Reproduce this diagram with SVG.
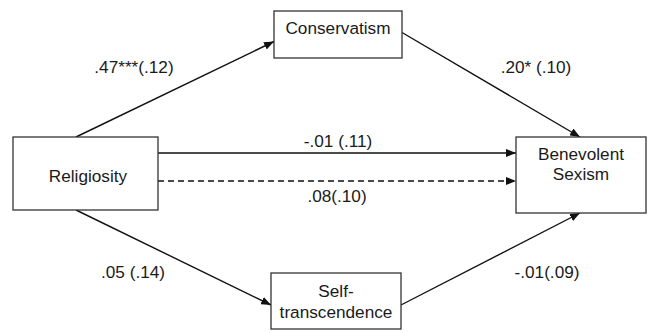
<svg xmlns="http://www.w3.org/2000/svg" width="647" height="332" viewBox="0 0 647 332">
<style>
.box{fill:#fff;stroke:#333;stroke-width:1.3}
.t{font-family:"Liberation Sans",Arial,sans-serif;font-size:17.2px;fill:#1a1a1a;text-anchor:middle}
.c{stroke:#111;stroke-width:1.4;fill:none;marker-end:url(#ah)}
.d{stroke-dasharray:6 4}
</style>
<defs>
<marker id="ah" viewBox="0 0 10 8" refX="10" refY="4" markerWidth="10" markerHeight="8" markerUnits="userSpaceOnUse" orient="auto">
<path d="M0,0 L10,4 L0,8 z" fill="#111"/>
</marker>
</defs>
<rect width="647" height="332" fill="#fff"/>
<g id="connectors">
<line class="c" x1="76" y1="137" x2="274" y2="41.5"/>
<line class="c" x1="402" y1="32.5" x2="580" y2="137"/>
<line class="c" x1="158" y1="153" x2="516" y2="153"/>
<line class="c d" x1="158" y1="181" x2="516" y2="181"/>
<line class="c" x1="76" y1="210" x2="271" y2="305"/>
<line class="c" x1="401" y1="305" x2="580" y2="213"/>
<text class="t" x="134" y="73">.47***(.12)</text>
<text class="t" x="536" y="73">.20* (.10)</text>
<text class="t" x="338" y="147">-.01 (.11)</text>
<text class="t" x="337" y="202">.08(.10)</text>
<text class="t" x="133" y="278">.05 (.14)</text>
<text class="t" x="547" y="278">-.01(.09)</text>
</g>
<g id="conservatism">
<rect class="box" x="274" y="11" width="128" height="47"/>
<text class="t" x="338" y="33.5">Conservatism</text>
</g>
<g id="religiosity">
<rect class="box" x="13" y="137" width="145" height="73"/>
<text class="t" x="88" y="181.5">Religiosity</text>
</g>
<g id="benevolent-sexism">
<rect class="box" x="516" y="137" width="130" height="76"/>
<text class="t" x="581" y="160">Benevolent</text>
<text class="t" x="581" y="180">Sexism</text>
</g>
<g id="self-transcendence">
<rect class="box" x="271" y="273" width="130" height="56"/>
<text class="t" x="336" y="296.5">Self-</text>
<text class="t" x="336" y="318">transcendence</text>
</g>
</svg>
